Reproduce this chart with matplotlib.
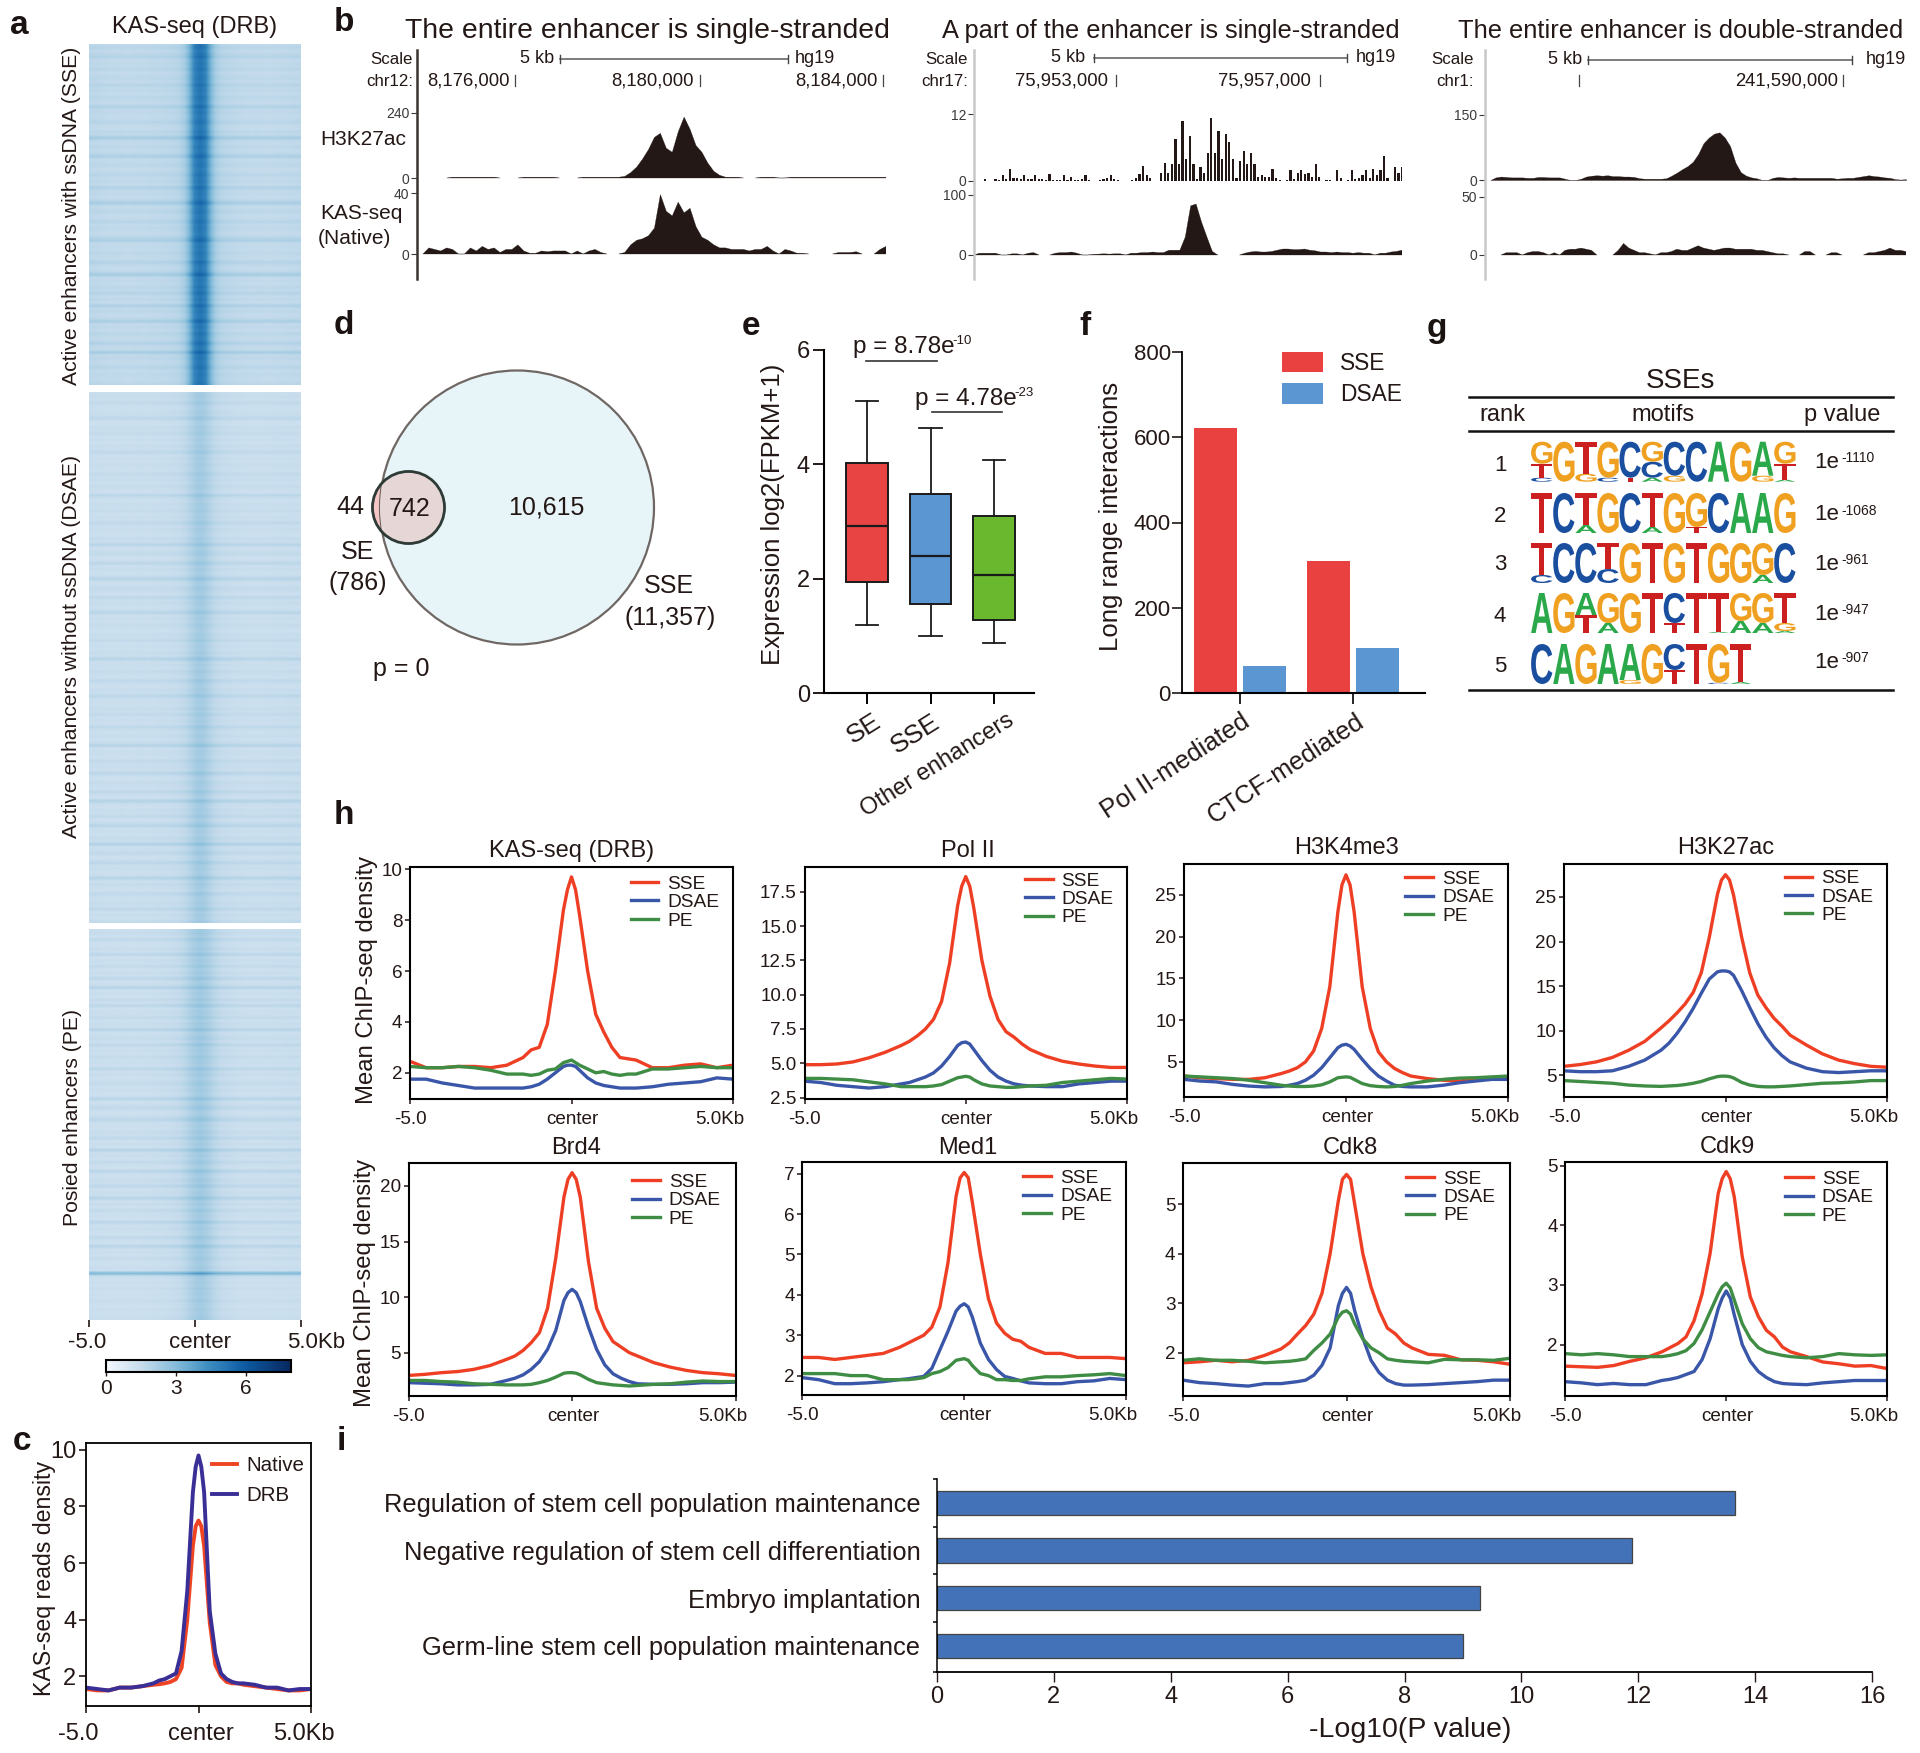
import numpy as np
import matplotlib
matplotlib.use("Agg")
import matplotlib.pyplot as plt
from matplotlib.patches import Circle, PathPatch
from matplotlib.colors import LinearSegmentedColormap, Normalize
from matplotlib.cm import ScalarMappable
from matplotlib.textpath import TextPath
from matplotlib.font_manager import FontProperties
from matplotlib.transforms import Affine2D, ScaledTranslation

plt.rcParams['font.family'] = ['Liberation Sans', 'DejaVu Sans']
W, H = 1920, 1753
INK = '#231815'

# ---------- data: profile x grid (kb from centre) ----------
X = [-5,-4.5,-4,-3.5,-3,-2.5,-2,-1.75,-1.5,-1.25,-1,-.75,-.5,-.25,-.125,0,.125,.25,.5,.75,1,1.25,1.5,1.75,2,2.5,3,3.5,4,4.5,5]

KAS_SSE = [2.45,2.2,2.2,2.25,2.25,2.2,2.3,2.45,2.6,2.9,3.0,3.9,6.0,8.4,9.2,9.7,9.2,8.2,6.0,4.3,3.6,3.0,2.6,2.55,2.5,2.2,2.2,2.3,2.35,2.2,2.3]
KAS_DSAE = [1.75,1.75,1.6,1.5,1.4,1.4,1.4,1.4,1.4,1.45,1.55,1.75,2.0,2.25,2.3,2.3,2.25,2.1,1.8,1.6,1.5,1.45,1.4,1.4,1.4,1.45,1.55,1.6,1.65,1.8,1.75]
KAS_PE = [2.25,2.2,2.2,2.25,2.2,2.1,1.95,1.95,1.95,1.9,1.95,2.1,2.15,2.4,2.45,2.5,2.4,2.3,2.15,2.0,2.05,1.95,1.9,1.95,1.95,2.15,2.15,2.2,2.25,2.2,2.2]
POL_SSE = [4.9,4.9,4.95,5.1,5.4,5.8,6.3,6.6,7.0,7.5,8.2,9.5,12.3,16.5,17.9,18.6,17.9,16.3,12.5,9.9,8.2,7.3,6.9,6.4,6.0,5.5,5.15,4.95,4.8,4.7,4.7]
POL_DSAE = [3.7,3.6,3.4,3.3,3.2,3.3,3.5,3.6,3.8,4.0,4.3,4.8,5.5,6.3,6.5,6.55,6.4,6.0,5.2,4.5,4.0,3.7,3.5,3.4,3.35,3.3,3.3,3.5,3.6,3.7,3.7]
POL_PE = [3.9,3.9,3.85,3.8,3.65,3.5,3.3,3.3,3.3,3.3,3.35,3.45,3.7,3.95,4.0,4.05,4.0,3.8,3.5,3.35,3.3,3.25,3.25,3.3,3.35,3.4,3.6,3.7,3.8,3.9,3.85]
K4_SSE = [3.3,3.1,3.0,2.9,2.9,3.1,3.6,3.9,4.3,5.0,6.3,9.0,14.0,23.0,26.2,27.4,26.2,23.0,14.0,9.0,6.2,5.0,4.2,3.7,3.3,3.0,2.8,2.7,2.9,3.0,3.2]
K4_DSAE = [2.9,2.7,2.6,2.3,2.1,2.0,2.05,2.2,2.4,2.8,3.4,4.3,5.5,6.7,7.0,7.1,6.9,6.5,5.3,4.2,3.3,2.7,2.2,2.05,2.0,2.0,2.2,2.5,2.7,2.9,2.9]
K4_PE = [3.3,3.2,3.1,3.0,2.8,2.5,2.2,2.1,2.05,2.05,2.1,2.25,2.6,3.1,3.15,3.2,3.15,2.9,2.4,2.15,2.05,2.0,2.05,2.2,2.4,2.7,2.9,3.05,3.1,3.2,3.3]
K27_SSE = [6.0,6.2,6.5,7.0,7.8,8.8,10.3,11.1,12.0,13.0,14.3,16.5,20.5,25.3,26.9,27.5,26.9,25.2,20.5,16.5,14.0,12.6,11.4,10.5,9.5,8.4,7.4,6.7,6.3,6.0,5.9]
K27_DSAE = [5.5,5.4,5.4,5.5,6.0,6.7,7.8,8.6,9.7,11.0,12.5,14.2,15.8,16.6,16.7,16.7,16.6,16.2,14.5,12.6,10.8,9.3,8.1,7.2,6.5,5.8,5.4,5.3,5.4,5.5,5.5]
K27_PE = [4.4,4.3,4.2,4.1,3.9,3.8,3.75,3.8,3.85,3.95,4.1,4.3,4.6,4.85,4.9,4.9,4.85,4.7,4.2,3.9,3.75,3.7,3.7,3.75,3.8,3.95,4.1,4.15,4.25,4.4,4.4]
BRD_SSE = [2.95,3.05,3.2,3.3,3.5,3.85,4.4,4.7,5.2,5.9,6.8,9.0,13.5,19.0,20.6,21.2,20.6,19.0,13.2,9.0,7.2,6.0,5.5,5.0,4.7,4.1,3.7,3.4,3.2,3.1,2.95]
BRD_DSAE = [2.3,2.25,2.2,2.1,2.1,2.15,2.5,2.7,3.0,3.5,4.2,5.3,7.0,9.7,10.4,10.7,10.4,9.6,7.3,5.3,3.9,3.1,2.7,2.4,2.2,2.15,2.15,2.2,2.3,2.3,2.35]
BRD_PE = [2.5,2.5,2.4,2.35,2.2,2.15,2.1,2.1,2.1,2.15,2.3,2.5,2.8,3.15,3.2,3.2,3.15,3.0,2.6,2.3,2.2,2.1,2.05,2.0,2.05,2.15,2.2,2.35,2.45,2.4,2.4]
MED_SSE = [2.45,2.45,2.4,2.45,2.5,2.55,2.7,2.8,2.9,3.0,3.2,3.7,4.8,6.45,6.9,7.03,6.9,6.3,5.0,3.9,3.3,3.05,2.9,2.85,2.7,2.55,2.55,2.45,2.45,2.45,2.42]
MED_DSAE = [1.95,1.9,1.8,1.8,1.82,1.85,1.9,1.92,1.95,1.98,2.18,2.64,3.1,3.6,3.72,3.78,3.7,3.45,2.8,2.4,2.15,1.98,1.93,1.87,1.82,1.8,1.8,1.85,1.87,1.93,1.9]
MED_PE = [2.05,2.05,2.05,2.0,2.0,1.9,1.9,1.9,1.92,1.95,2.05,2.1,2.2,2.38,2.4,2.42,2.38,2.25,2.05,2.0,1.9,1.9,1.88,1.88,1.92,1.97,1.97,2.0,2.02,2.05,2.0]
CDK8_SSE = [1.8,1.82,1.85,1.82,1.85,1.95,2.08,2.2,2.38,2.55,2.78,3.2,4.0,5.07,5.5,5.6,5.5,5.0,4.0,3.33,2.85,2.5,2.38,2.2,2.1,1.97,1.95,1.86,1.85,1.82,1.77]
CDK8_DSAE = [1.45,1.4,1.38,1.35,1.33,1.38,1.38,1.4,1.42,1.45,1.55,1.75,2.1,2.95,3.2,3.32,3.2,2.85,2.3,1.85,1.6,1.45,1.38,1.35,1.35,1.36,1.38,1.4,1.42,1.45,1.45]
CDK8_PE = [1.85,1.88,1.85,1.85,1.83,1.8,1.82,1.83,1.85,1.88,2.05,2.2,2.38,2.72,2.82,2.85,2.78,2.58,2.28,2.1,2.0,1.88,1.85,1.83,1.82,1.8,1.87,1.86,1.86,1.85,1.89]
CDK9_SSE = [1.64,1.63,1.62,1.65,1.72,1.78,1.88,1.95,2.02,2.13,2.4,2.85,3.53,4.53,4.78,4.9,4.78,4.48,3.47,2.8,2.47,2.24,2.13,1.96,1.88,1.8,1.71,1.68,1.64,1.65,1.6]
CDK9_DSAE = [1.38,1.36,1.33,1.35,1.33,1.33,1.4,1.42,1.45,1.5,1.55,1.75,2.1,2.6,2.78,2.9,2.78,2.5,2.0,1.72,1.55,1.45,1.38,1.35,1.34,1.33,1.36,1.38,1.4,1.4,1.4]
CDK9_PE = [1.85,1.83,1.85,1.83,1.8,1.8,1.8,1.82,1.85,1.9,2.02,2.25,2.55,2.85,2.97,3.03,2.95,2.75,2.35,2.1,1.95,1.88,1.85,1.82,1.8,1.78,1.8,1.85,1.83,1.82,1.83]
C_NATIVE = [1.55,1.5,1.5,1.6,1.6,1.65,1.7,1.72,1.75,1.8,1.9,2.3,4.0,6.6,7.3,7.5,7.3,6.6,3.9,2.4,2.0,1.8,1.75,1.75,1.7,1.65,1.6,1.55,1.5,1.5,1.55]
C_DRB = [1.6,1.55,1.5,1.6,1.6,1.65,1.75,1.85,1.9,2.0,2.1,2.9,5.0,8.5,9.4,9.8,9.4,8.5,4.3,2.8,2.1,1.9,1.8,1.75,1.75,1.7,1.6,1.6,1.5,1.55,1.55]

PROFILE_TITLES = ['KAS-seq (DRB)', 'Pol II', 'H3K4me3', 'H3K27ac', 'Brd4', 'Med1', 'Cdk8', 'Cdk9']
SERIES_NAMES = ['SSE', 'DSAE', 'PE']
PROFILE_TICKS = [[2,4,6,8,10], [2.5,5,7.5,10,12.5,15,17.5], [5,10,15,20,25], [5,10,15,20,25],
                 [5,10,15,20], [2,3,4,5,6,7], [2,3,4,5], [2,3,4,5]]
PROFILE_TICKLABELS = [['2','4','6','8','10'], ['2.5','5.0','7.5','10.0','12.5','15.0','17.5'], ['5','10','15','20','25'],
                      ['5','10','15','20','25'], ['5','10','15','20'], ['2','3','4','5','6','7'], ['2','3','4','5'], ['2','3','4','5']]
XTICK_LABELS = ['-5.0', 'center', '5.0Kb']

# panel a: column profiles (41 columns, -5..5 kb) and row weights
HEAT_SSE_COL = [1.7,1.68,1.65,1.62,1.6,1.62,1.6,1.58,1.6,1.62,1.6,1.62,1.65,1.65,1.68,1.7,1.75,1.85,2.2,3.3,4.8,5.2,4.8,3.3,2.2,1.85,1.75,1.7,1.65,1.62,1.6,1.58,1.6,1.58,1.55,1.58,1.6,1.6,1.62,1.65,1.65]
HEAT_DSAE_COL = [1.4,1.38,1.38,1.35,1.35,1.35,1.38,1.35,1.35,1.38,1.38,1.35,1.38,1.4,1.4,1.42,1.45,1.5,1.62,1.85,2.15,2.3,2.15,1.85,1.62,1.5,1.45,1.42,1.38,1.38,1.35,1.35,1.35,1.35,1.35,1.38,1.38,1.38,1.4,1.4,1.4]
HEAT_PE_COL = [1.35,1.35,1.32,1.32,1.3,1.3,1.32,1.3,1.3,1.3,1.32,1.32,1.35,1.35,1.38,1.4,1.45,1.52,1.7,1.95,2.2,2.35,2.2,1.95,1.7,1.52,1.45,1.4,1.35,1.32,1.3,1.3,1.3,1.3,1.3,1.32,1.32,1.32,1.35,1.35,1.35]
HEAT_SSE_ROW = [1.02,1.12,0.98,1.06,1.18,0.97,1.04,1.0,1.1,0.96,1.02,1.06,0.97,1.14,1.0,1.04,0.96,1.08,1.0,0.97,1.22,1.0,1.05,0.96,1.02,1.12,0.98,0.95,1.06,1.0,1.35,1.02,0.97,1.08,0.96,1.04,1.26,0.98,1.02,1.06,0.95,1.0,1.1,0.97,1.04,0.96,1.2,1.0,1.02,0.95,1.06,1.32,0.98,1.02,1.08,0.96,1.0,1.14,0.97,1.04,1.0,0.95,1.1,1.28,0.98,1.02,0.96,1.06,1.0,0.97,1.18,1.02,0.95,1.04,1.36,0.98,1.02,0.96,1.08,1.0,1.16,0.97,1.04,0.95,1.24,1.0,1.06,0.96,1.02,1.3,0.98,1.04,0.95,1.1,1.0,0.97,1.2,1.02,0.96,1.34,1.0,1.06,0.97,1.02,1.12,0.96,1.04,1.0,0.98,1.08]
HEAT_DSAE_ROW = [1.0,1.06,0.98,1.14,1.0,0.97,1.04,1.02,1.2,0.98,0.96,1.05,1.0,1.1,0.97,1.02,0.95,1.06,1.0,1.16,0.98,1.02,0.96,1.05,1.0,0.97,1.12,1.0,1.04,0.96,1.08,1.0,0.97,1.22,1.0,0.96,1.05,0.98,1.1,0.96,1.02,1.0,1.16,0.97,1.04,1.0,0.95,1.08,1.0,1.26,0.97,1.04,1.12,0.96,1.0,1.2,0.98,1.06,0.96,1.02,1.28,1.0,0.97,1.1,1.04,0.96,1.18,1.0,1.06,0.97,1.02,1.24,0.98,1.04,0.96,1.08,1.0,0.95,1.05,1.0,1.14,0.97,1.02,0.96,1.06,1.0,1.3,0.98,1.04,0.96,1.1,1.0,0.97,1.16,1.02,0.96,1.06,1.0,1.24,0.97,1.02,0.95,1.08,1.0,1.12,0.97,1.04,0.96,1.2,1.0,0.98,1.06,0.96,1.02,1.3,0.97,1.04,1.0,0.96,1.14,1.0,1.05,0.97,1.24,1.0,0.96,1.08,1.02,0.97,1.18,1.0,0.96,1.32,1.02,0.97,1.06,1.0,1.16,0.96,1.04,1.26,0.98,1.02,0.96,1.1,1.0,1.36,0.97,1.04,1.14,0.96,1.0,1.22,0.98,1.06,0.96,1.02,1.3,0.97,1.08,1.0,0.96,1.16,1.02,0.97,1.06,1.0,1.2,0.96,1.04,0.98,1.1]
HEAT_PE_ROW = [1.04,1.1,0.98,1.18,1.0,0.96,1.08,1.0,1.24,0.97,1.05,1.0,1.14,0.96,1.06,1.0,1.22,0.97,1.02,1.3,0.98,1.06,0.96,1.12,1.0,1.24,0.97,1.05,1.0,1.16,0.96,1.08,1.0,1.3,0.97,1.02,1.12,0.96,1.22,1.0,1.06,0.96,1.14,1.0,1.05,0.97,1.24,1.0,1.08,0.96,1.02,1.14,0.98,1.06,0.96,1.0,1.3,0.97,1.04,1.18,1.0,0.96,1.08,1.26,0.98,1.02,0.96,1.1,1.0,1.2,0.97,1.05,0.96,1.34,1.0,1.06,0.97,1.14,1.0,0.96,1.28,1.02,0.97,1.1,1.0,1.22,0.96,1.05,1.0,1.32,0.97,1.08,0.96,1.16,1.0,1.02,0.96,1.26,0.98,1.06,1.0,0.96,1.18,1.02,0.97,1.3,1.0,1.05,0.96,1.12,1.0,0.97,1.06,1.0,2.0,1.05,0.97,1.02,0.96,1.06,0.98,1.02,0.96,1.08,1.0,0.97,1.04,0.98,1.02,1.06]

# panel b: track heights per genome bin (0 = no coverage)
B1_H3K27AC = [0,0,0,0,0,0,3,3,3,3,3,3,3,3,0,0,0,0,3,3,3,3,3,3,0,0,0,0,3,3,3,3,3,3,3,6,20,40,70,105,150,165,110,95,170,225,180,120,95,55,25,10,3,3,3,0,0,0,3,3,3,0,0,3,3,3,3,3,3,3,3,3,3,3,3,3,3,3,3,3]
B1_KAS = [0,0,4,3,2,4,3,0,0,4,2,5,3,4,1,3,3,6,2,0.5,0.5,2,1.5,2,2,2,0,2,0,2,3,1,0,0,0,1,6,9,10,12,17,39,28,25,34,27,30,18,11,9,6,4,4,3,3,3,2,3,3,5,2,0,3,2,0.5,0.5,0,0,0,0,0,1,1,1,1.5,0,0,0,3,5]
B2_H3K27AC = [0,0,0,.3,0,0,.4,.2,1.0,.3,2.2,.5,.6,.3,1.1,.3,.3,1.1,.3,.4,.2,1.3,.2,.1,.1,1.1,.1,.8,.1,.1,.3,1.1,.2,0,0,.2,.3,.5,1.1,.3,.2,0,0,0,.2,.5,1.2,2.7,1.0,.5,0,0,1.5,3.2,1.5,3,7.5,3,10.8,4,8,3,.3,2.5,1.5,5,11.2,5,9,4,8.5,7,4,.5,3.5,5.3,3,5,3,.8,1,.7,.8,2.2,.6,.1,0,.2,2,.3,1.5,2,1.2,1.5,.8,3,.7,0,.2,.2,0,2,.5,0,.2,2,.3,.5,1,2,.5,2.2,1,2,4.5,.5,0,2.5,1.5,2.5]
B2_KAS = [0,3,3,3,3,0,0,2,2,0,3,4,0,0,0,3,4,4,5,3,0,0,1,1.5,2,1.5,2,2,0,3,3,4,4,5,4,4,8,8,8,30,82,85,55,30,6,0,0,0,0,0,3,5,6,5,5,6,8,10,10,9,9,10,8,7,5,5,4,5,4,4,3,4,3,3,0,3,3,5,6,8]
B3_H3K27AC = [0,0,6,8,7,6,6,6,5,5,7,7,6,6,6,3,0,0,3,8,10,11,10,11,9,9,8,8,7,4,3,3,3,3,4,10,17,25,32,42,60,85,98,107,110,98,78,40,18,10,6,4,0,0,5,7,6,5,6,5,5,5,5,5,5,5,3,4,5,5,7,9,11,9,8,6,5,2,1,2]
B3_KAS = [0,0,0,0,2,2,2,0,2,3,3,2,0,2,0,4,5,5,6,5,4,0,0,0,0,4,10,6,4,2,2,1,0,2,2,3,5,4,4,6,8,6,5,4,5,6,6,5,5,5,5,4,4,3,2,1,1,0,0,0,3,3,0,0,0,2,2,0,0,0,0,0,2,2,3,4,6,4,4,3]
B_TITLES = ['The entire enhancer is single-stranded', 'A part of the enhancer is single-stranded', 'The entire enhancer is double-stranded']
B_CHROMS = ['chr12:', 'chr17:', 'chr1:']

# panel d
SE_TOTAL, SSE_TOTAL = 786, 11357
VENN_LABELS = ['44', '742', '10,615']

# panel e
E_CATS = ['SE', 'SSE', 'Other enhancers']
E_WHISK_HI = [5.10, 4.63, 4.07]
E_Q3 = [4.02, 3.48, 3.09]
E_MED = [2.92, 2.39, 2.06]
E_Q1 = [1.94, 1.56, 1.28]
E_WHISK_LO = [1.19, 1.00, 0.88]
E_COLORS = ['#e94444', '#5b96d2', '#6ab82e']

# panel f
F_CATS = ['Pol II-mediated', 'CTCF-mediated']
F_SSE = [622, 310]
F_DSAE = [63, 106]

# panel g
MOTIF_1 = [[('C',.1),('T',.35),('G',.55)],[('G',1)],[('G',.2),('T',.8)],[('C',.1),('G',.9)],[('T',.1),('C',.9)],[('A',.1),('C',.4),('G',.5)],[('G',.15),('C',.85)],[('C',1)],[('A',1)],[('G',1)],[('G',.15),('A',.85)],[('A',.05),('T',.4),('G',.55)]]
MOTIF_2 = [[('T',1)],[('C',1)],[('A',.2),('T',.8)],[('G',1)],[('C',1)],[('A',.15),('T',.85)],[('G',1)],[('T',.15),('G',.85)],[('C',1)],[('A',1)],[('A',1)],[('G',1)]]
MOTIF_3 = [[('C',.2),('T',.8)],[('C',1)],[('C',1)],[('C',.35),('T',.65)],[('G',1)],[('T',1)],[('G',1)],[('T',1)],[('G',1)],[('G',1)],[('A',.2),('G',.8)],[('C',1)]]
MOTIF_4 = [[('A',1)],[('G',1)],[('T',.45),('A',.55)],[('A',.25),('G',.75)],[('G',1)],[('T',1)],[('T',.25),('C',.75)],[('T',1)],[('A',.03),('T',.97)],[('A',.3),('G',.7)],[('A',.25),('G',.75)],[('A',.05),('G',.2),('T',.75)]]
MOTIF_5 = [[('C',1)],[('A',1)],[('G',1)],[('A',1)],[('G',.1),('A',.9)],[('G',1)],[('T',.35),('C',.65)],[('T',1)],[('C',.03),('G',.97)],[('A',.05),('T',.95)]]
G_RANKS = ['1', '2', '3', '4', '5']
G_PEXP = ['-1110', '-1068', '-961', '-947', '-907']
LOGO_COLORS = {'A': '#2aa84a', 'C': '#1a4fa0', 'G': '#f0a020', 'T': '#cc1f1f'}

# panel i
I_TERMS = ['Regulation of stem cell population maintenance', 'Negative regulation of stem cell differentiation',
           'Embryo implantation', 'Germ-line stem cell population maintenance']
I_VALUES = [13.65, 11.9, 9.29, 9.0]

# ---------- helpers ----------
fig = plt.figure(figsize=(W/100, H/100), dpi=100, facecolor='white')

def axpx(x0, y0, x1, y1):
    return fig.add_axes([x0/W, 1-y1/H, (x1-x0)/W, (y1-y0)/H])

ov = fig.add_axes([0, 0, 1, 1])
ov.set_xlim(0, W); ov.set_ylim(H, 0); ov.axis('off'); ov.set_zorder(10); ov.patch.set_alpha(0)

def T(x, y, s, fs=13, ha='center', va='center', **kw):
    kw.setdefault('color', INK)
    return ov.text(x, y, s, fontsize=fs, ha=ha, va=va, **kw)

def shift(label, dx=0, dy=0):
    label.set_transform(label.get_transform() + ScaledTranslation(dx/100, dy/100, fig.dpi_scale_trans))

for s, x, y in [('a',19,25),('b',344,22),('c',22,1442),('d',344,325),('e',751,326),('f',1085,326),('g',1437,328),('h',344,815),('i',341,1442)]:
    T(x, y, s, fs=24, fontweight='bold', color='#1a1311')

# ---------- panel a ----------
cmap = LinearSegmentedColormap.from_list('kas', [(0,'#f4f8fd'),(1.5/8,'#c6dcec'),(3/8,'#86bdda'),(4.5/8,'#3a8bc0'),(6/8,'#0d5ba3'),(1,'#08285f')])
norm = Normalize(0, 8)
heat = [(44,385,HEAT_SSE_COL,HEAT_SSE_ROW),(392,923,HEAT_DSAE_COL,HEAT_DSAE_ROW),(929,1320,HEAT_PE_COL,HEAT_PE_ROW)]
for i, (y0, y1, col, row) in enumerate(heat):
    ax = axpx(89, y0, 301, y1)
    mat = np.array(col)[None, :] + (np.array(row)[:, None]-1)*1.8
    ax.imshow(mat, aspect='auto', cmap=cmap, norm=norm, extent=[-5,5,len(row),0], interpolation='bilinear')
    for sp in ax.spines.values(): sp.set_visible(False)
    ax.set_yticks([])
    if i == 2:
        ax.set_xticks([-5,0,5], XTICK_LABELS)
        ax.tick_params(axis='x', length=5, width=1.2, labelsize=16, pad=4, colors=INK)
        lb = ax.get_xticklabels()
        shift(lb[0], -2); shift(lb[1], 5); shift(lb[2], 15)
    else:
        ax.set_xticks([])
T(195, 27, 'KAS-seq (DRB)', fs=17)
T(72, 216, 'Active enhancers with ssDNA (SSE)', fs=15.2, rotation=90)
T(72, 647, 'Active enhancers without ssDNA (DSAE)', fs=15.2, rotation=90)
T(72, 1118, 'Posied enhancers (PE)', fs=15.2, rotation=90)
cax = axpx(106, 1360, 291, 1372)
cb = fig.colorbar(ScalarMappable(norm=Normalize(0, 7.93), cmap=LinearSegmentedColormap.from_list('k2', [cmap(v/7.93) for v in np.linspace(0, 7.93, 32)])), cax=cax, orientation='horizontal')
cb.set_ticks([0,3,6]); cb.ax.tick_params(labelsize=15, length=3, width=1, pad=2, colors=INK)
cb.outline.set_linewidth(1.5)

# ---------- panel b ----------
def track(x0, x1, ytop, yzero, ymax, vals, spiky=False, label_fs=10):
    v = np.array(vals, dtype=float)
    ax = axpx(x0, ytop, x1, yzero+1)
    px_per = (yzero-ytop)/ymax
    ax.set_ylim(-1/px_per, ymax); ax.set_xlim(0, len(v)-1)
    if spiky:
        ax.bar(np.arange(len(v)), v, width=0.62, color='#231815', lw=0)
    else:
        m = v > 0
        mm = m.copy(); mm[1:] |= m[:-1]; mm[:-1] |= m[1:]
        ax.fill_between(np.arange(len(v)), 0, v, where=mm, color='#231815', lw=0.2)
    ax.patch.set_alpha(0)
    for sp in ax.spines.values(): sp.set_visible(False)
    ax.set_xticks([])
    ax.set_yticks([0, ymax], ['0', str(ymax)])
    ax.tick_params(axis='y', length=4, width=0.8, labelsize=label_fs, pad=1.5, colors='#3a3a3a')

def browser(axx, axc, title, tx, title_fs, chrom, rnum, bar, y_bar, kb_r, hg_l, coords, tr1, tr2, x1, spiky=False):
    T(tx, 31, title, fs=title_fs)
    ov.plot([axx, axx], [50, 279], color=axc, lw=1.8)
    T(rnum, 59, 'Scale', fs=12.2, ha='right')
    T(rnum, 81, chrom, fs=12.2, ha='right')
    T(kb_r, y_bar-1, '5 kb', fs=13, ha='right')
    T(hg_l, y_bar-1, 'hg19', fs=13, ha='left')
    ov.plot(bar, [y_bar, y_bar], color='#666666', lw=1.2)
    for b in bar:
        ov.plot([b, b], [y_bar-4, y_bar+4], color='#444444', lw=1)
    for txt, r, tick in coords:
        if txt:
            T(r, 81, txt, fs=13.3, ha='right')
        ov.plot([tick, tick], [75, 86], color='#444444', lw=0.9)
    track(axx, x1, tr1[0], tr1[1], tr1[2], tr1[3], spiky=spiky)
    track(axx, x1, tr2[0], tr2[1], tr2[2], tr2[3])

browser(417, '#3a3330', B_TITLES[0], 647, 20.4, B_CHROMS[0], 413, [560, 788], 59, 554, 795,
        [('8,176,000',510,515),('8,180,000',694,700),('8,184,000',878,883)],
        (113,178,240,B1_H3K27AC), (193,254,40,B1_KAS), 886)
browser(974, '#c8c8c8', B_TITLES[1], 1171, 18.3, B_CHROMS[1], 968, [1094, 1347], 58, 1085, 1356,
        [('75,953,000',1108,1116),('75,957,000',1311,1320)],
        (114,181,12,B2_H3K27AC), (195,255,100,B2_KAS), 1402, spiky=True)
browser(1485, '#c8c8c8', B_TITLES[2], 1681, 18.3, B_CHROMS[2], 1474, [1588, 1852], 60, 1582, 1866,
        [('',0,1579),('241,590,000',1838,1843)],
        (115,180,150,B3_H3K27AC), (197,255,50,B3_KAS), 1906)
T(320, 139, 'H3K27ac', fs=15, ha='left')
T(320, 213, 'KAS-seq', fs=15, ha='left')
T(318, 238, '(Native)', fs=15, ha='left')

# ---------- panel c ----------
ax = axpx(86, 1443, 311, 1706)
ax.plot(X, C_NATIVE, color='#ee4423', lw=2.8, label='Native')
ax.plot(X, C_DRB, color='#3a2f96', lw=2.8, label='DRB')
ax.set_xlim(-5, 5); ax.set_ylim(0.95, 10.24)
ax.set_yticks([2,4,6,8,10]); ax.set_xticks([-5,0,5], XTICK_LABELS)
ax.tick_params(axis='both', labelsize=17, length=5, width=1.2, colors=INK)
ax.tick_params(axis='y', pad=2)
ax.tick_params(axis='x', pad=7)
lb = ax.get_xticklabels(); shift(lb[0], -8); shift(lb[1], 2); shift(lb[2], -7)
for sp in ax.spines.values(): sp.set_linewidth(1.3)
T(45, 1578, 'KAS-seq reads density', fs=16.7, rotation=90)
leg = ax.legend(loc='upper left', bbox_to_anchor=((212-86)/225, 1-(1467-1443-11)/263), frameon=False, fontsize=14.8,
                handlelength=1.2, handletextpad=0.45, labelspacing=0.55, borderpad=0, borderaxespad=0)
for t in leg.get_texts(): t.set_color(INK)

# ---------- panel d ----------
k = 137/np.sqrt(SSE_TOTAL)
r_big, r_small = k*np.sqrt(SSE_TOTAL), k*np.sqrt(SE_TOTAL)
big_c, small_c = (517, 507.5), (408.5, 507.5)
ov.add_patch(Circle(small_c, r_small, fc='#f5c6c5', ec='none', zorder=1))
big = Circle(big_c, r_big, fc='#e8f5f8', ec='#6f6763', lw=1.6, zorder=2)
ov.add_patch(big)
inter = Circle(small_c, r_small, fc='#e6d7d6', ec='none', zorder=3)
ov.add_patch(inter); inter.set_clip_path(big)
ov.add_patch(Circle(small_c, r_small, fc='none', ec='#2e3a36', lw=2, zorder=4))
T(350, 507, VENN_LABELS[0], fs=18); T(410, 509, VENN_LABELS[1], fs=18, zorder=5); T(546, 507, VENN_LABELS[2], fs=18, zorder=5)
T(357, 552, 'SE', fs=18); T(358, 583, '(786)', fs=18)
T(669, 586, 'SSE', fs=18); T(670, 618, '(11,357)', fs=18)
T(401, 669, 'p = 0', fs=18)

# ---------- panel e ----------
ax = axpx(824, 350, 1034, 693)
stats = [dict(whishi=h, q3=q3, med=m, q1=q1, whislo=l, fliers=[]) for h,q3,m,q1,l in zip(E_WHISK_HI,E_Q3,E_MED,E_Q1,E_WHISK_LO)]
bp = ax.bxp(stats, positions=[1,2,3], widths=0.65, patch_artist=True, showfliers=False,
            boxprops=dict(linewidth=1.4, edgecolor='#1a1a1a'), medianprops=dict(color='#1a1a1a', linewidth=1.6),
            whiskerprops=dict(color='#1a1a1a', linewidth=1.3), capprops=dict(color='#1a1a1a', linewidth=1.3), capwidths=0.35)
for b, c in zip(bp['boxes'], E_COLORS): b.set_facecolor(c)
ax.set_xlim(1-43/63.5, 3+40/63.5); ax.set_ylim(0, 6)
ax.spines['top'].set_visible(False); ax.spines['right'].set_visible(False)
ax.spines['left'].set_linewidth(1.5); ax.spines['bottom'].set_linewidth(1.5)
ax.set_yticks([0,2,4,6])
ax.tick_params(axis='y', labelsize=17, length=8, width=1.4, pad=2, colors=INK)
ax.set_xticks([1,2,3]); ax.set_xticklabels(E_CATS, rotation=32, ha='right', rotation_mode='anchor', fontsize=17, color=INK)
ax.tick_params(axis='x', length=8, width=1.4, pad=4)
for lbl, d, fs in zip(ax.get_xticklabels(), [6, 1, 12], [19, 19, 17]):
    shift(lbl, d, 0); lbl.set_fontsize(fs)
T(773, 514, 'Expression log2(FPKM+1)', fs=18.5, rotation=90)
T(853, 347, 'p = 8.78e', fs=17.5, ha='left'); T(952, 341, '-10', fs=9.5, ha='left')
ov.plot([866, 937], [361, 361], color='#333333', lw=1.2)
T(915, 399, 'p = 4.78e', fs=17.5, ha='left'); T(1014, 393, '-23', fs=9.5, ha='left')
ov.plot([932, 1002], [412, 412], color='#333333', lw=1.2)

# ---------- panel f ----------
ax = axpx(1182, 352, 1425, 693)
xf = np.arange(2)
ax.bar(xf-0.215, F_SSE, width=0.38, color='#e94040', label='SSE')
ax.bar(xf+0.215, F_DSAE, width=0.38, color='#5b96d2', label='DSAE')
ax.set_xlim(-58/113, 185/113); ax.set_ylim(0, 800)
ax.spines['top'].set_visible(False); ax.spines['right'].set_visible(False)
ax.spines['left'].set_linewidth(1.3); ax.spines['bottom'].set_linewidth(1.5)
ax.set_yticks([0,200,400,600,800])
ax.tick_params(axis='y', labelsize=16, length=7, width=1.2, pad=1, colors=INK)
ax.set_xticks(xf); ax.set_xticklabels(F_CATS, rotation=33, ha='right', rotation_mode='anchor', fontsize=18.4, color=INK)
ax.tick_params(axis='x', length=8, width=1.2, pad=4)
for lbl, d in zip(ax.get_xticklabels(), [1, 3]): shift(lbl, d, 0)
T(1111, 516, 'Long range interactions', fs=18.5, rotation=90)
leg = ax.legend(loc='upper left', bbox_to_anchor=((1282-1182)/243, 1.0), frameon=False, fontsize=16.4,
                handlelength=1.8, handleheight=1.0, handletextpad=0.75, labelspacing=0.36, borderpad=0, borderaxespad=0)
for t in leg.get_texts(): t.set_color(INK)

# ---------- panel g ----------
T(1680, 381, 'SSEs', fs=20)
for y, lw in [(397,1.8),(431,1.8),(690,1.8)]:
    ov.plot([1469, 1893], [y, y], color='#111111', lw=lw)
T(1502, 415, 'rank', fs=17); T(1663, 415, 'motifs', fs=17); T(1842, 415, 'p value', fs=17)
fp_logo = FontProperties(family='Liberation Sans', weight='bold')
def logo_letter(ch, x, y_bottom, w, h):
    p = TextPath((0, 0), ch, size=1, prop=fp_logo)
    bb = p.get_extents()
    tr = Affine2D().translate(-bb.x0, -bb.y0).scale(w/bb.width, -h/bb.height).translate(x, y_bottom)
    ov.add_patch(PathPatch(tr.transform_path(p), fc=LOGO_COLORS[ch], ec='none', lw=0, zorder=5))
rows = [(MOTIF_1,481.7,465,462,458),(MOTIF_2,533,516,515,511),(MOTIF_3,583,565,565,560),(MOTIF_4,633,617,615,610),(MOTIF_5,684,666,663,658)]
for (motif, yb, yr, yp, ys), rk, pe in zip(rows, G_RANKS, G_PEXP):
    for i, stack in enumerate(motif):
        y = yb
        for ch, frac in stack:
            h = 40*frac
            logo_letter(ch, 1530.7+22.1*i+0.4, y, 21.3, h)
            y -= h
    T(1500, yr, rk, fs=16)
    T(1814, yp, '1e', fs=16, ha='left')
    T(1841, ys, pe, fs=10, ha='left')

# ---------- panel h ----------
PANELS = [
    (410,867,733,1099,(0.97,10.09),KAS_SSE,KAS_DSAE,KAS_PE,52,851,0),
    (804.5,867,1127,1099,(2.4,19.3),POL_SSE,POL_DSAE,POL_PE,43,851,2),
    (1184,864,1508,1097,(0.79,28.7),K4_SSE,K4_DSAE,K4_PE,47,848,0),
    (1564,864,1887,1097,(2.56,28.7),K27_SSE,K27_DSAE,K27_PE,45,848,0),
    (408.6,1163,735.6,1396,(1.1,22.07),BRD_SSE,BRD_DSAE,BRD_PE,59,1148,4),
    (802.4,1162,1126,1395,(1.52,7.29),MED_SSE,MED_DSAE,MED_PE,50,1148,4),
    (1183,1163,1510,1396,(1.13,5.83),CDK8_SSE,CDK8_DSAE,CDK8_PE,49,1148,4),
    (1565.4,1162,1887,1396,(1.14,5.06),CDK9_SSE,CDK9_DSAE,CDK9_PE,53,1147,1),
]
COLS = ['#ee3f24', '#3a56a8', '#3f8d45']
for i, (x0,y0,x1,y1,yl,s1,s2,s3,dz,ty,tdx) in enumerate(PANELS):
    ax = axpx(x0, y0, x1, y1)
    for ser, c, n in zip((s1,s2,s3), COLS, SERIES_NAMES):
        ax.plot(X, ser, color=c, lw=2.4, label=n)
    ax.set_xlim(-5, 5); ax.set_ylim(*yl)
    ax.set_yticks(PROFILE_TICKS[i], PROFILE_TICKLABELS[i])
    ax.set_xticks([-5,0,5], XTICK_LABELS)
    ax.tick_params(axis='both', labelsize=13.6, length=3.5, width=1.1, colors=INK)
    ax.tick_params(axis='y', pad=2)
    ax.tick_params(axis='x', pad=5)
    lb = ax.get_xticklabels(); shift(lb[1], 1); shift(lb[2], -13)
    for sp in ax.spines.values(): sp.set_linewidth(1.5)
    T((x0+x1)/2+tdx, ty, PROFILE_TITLES[i], fs=17)
    hgt = y1-y0
    leg = ax.legend(loc='upper left', bbox_to_anchor=(0.683, 1-(dz/3-9)/hgt), frameon=False, fontsize=13.8,
                    handlelength=1.45, handletextpad=0.47, labelspacing=0.05, borderpad=0, borderaxespad=0)
    for t in leg.get_texts(): t.set_color(INK)
T(367, 980, 'Mean ChIP-seq density', fs=17.2, rotation=90)
T(365, 1283, 'Mean ChIP-seq density', fs=17.2, rotation=90)

# ---------- panel i ----------
ax = axpx(937, 1479, 1872, 1672)
yi = np.arange(4)
ax.barh(yi, I_VALUES, height=24.3/47.7, color='#4472b8', edgecolor='#444444', linewidth=0.9)
ax.set_xlim(0, 16); ax.set_ylim(3.55, -0.5)
ax.spines['top'].set_visible(False); ax.spines['right'].set_visible(False)
ax.spines['left'].set_linewidth(1.1); ax.spines['bottom'].set_linewidth(1.3)
ax.set_xticks(range(0, 17, 2))
ax.tick_params(axis='x', labelsize=17, length=7, width=1, pad=3, colors=INK)
ax.set_yticks(yi, I_TERMS)
ax.tick_params(axis='y', which='major', labelsize=18.4, length=0, pad=12, colors=INK)
ax.set_yticks([-0.5, 0.5, 1.5, 2.5, 3.55], minor=True)
ax.tick_params(axis='y', which='minor', length=3, width=1.1)
T(1410, 1730, '-Log10(P value)', fs=20.5)

fig.savefig('out.png', dpi=100, facecolor='white')
